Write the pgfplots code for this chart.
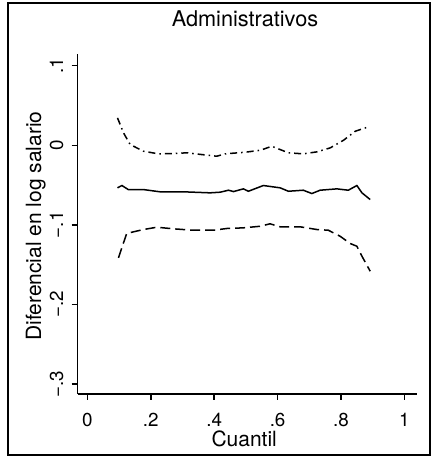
\documentclass[border=0pt]{standalone}
\usepackage{fontspec}
\setmainfont{TeX Gyre Heros}
\usepackage{pgfplots}
\pgfplotsset{compat=1.18}
\begin{document}
\fontsize{21bp}{25bp}\selectfont
\begin{tikzpicture}[x=1bp,y=1bp]
\useasboundingbox (0,0) rectangle (432,462);
\draw[line width=1.6bp] (8,7) rectangle (430,459);
\begin{axis}[
  at={(77.7bp,68bp)}, anchor=south west,
  scale only axis, width=339.3bp, height=340bp,
  xmin=-0.0305, xmax=1.0397, ymin=-0.3126, ymax=0.1147,
  axis x line*=bottom, axis y line*=left,
  axis line style={line width=1.5bp, black},
  xtick={0,0.2,0.4,0.6,0.8,1}, xticklabels={0,.2,.4,.6,.8,1},
  ytick={-0.3,-0.2,-0.1,0,0.1}, yticklabels={−.3,−.2,−.1,0,.1},
  tick align=outside, major tick length=6bp,
  tick style={line width=1.5bp, black},
  every tick label/.append style={font=\fontsize{18.8bp}{22bp}\selectfont},
  xticklabel style={anchor=base, inner sep=0pt, yshift=-26.8bp},
  yticklabel style={xshift=-8.5bp, rotate=90, anchor=base, inner sep=0pt},
  title={Administrativos},
  title style={at={(axis description cs:0.493,1.0638)}, anchor=base, inner sep=0pt, font=\fontsize{21.7bp}{26bp}\selectfont},
  xlabel={Cuantil},
  xlabel style={at={(axis description cs:0.4907,-0.155)}, anchor=base, inner sep=0pt, font=\fontsize{21bp}{25bp}\selectfont},
  ylabel={Diferencial en log salario},
  ylabel style={at={(axis description cs:-0.108,0.494)}, anchor=base, inner sep=0pt, font=\fontsize{21bp}{25bp}\selectfont},
  clip=false,
]
% upper band (dash-dot)
\addplot[black, line width=1.5bp, dash pattern=on 7bp off 4bp on 1.5bp off 4bp] coordinates {
(0.095,0.0344) (0.114,0.0156) (0.135,0.0009) (0.177,-0.0075) (0.224,-0.0108)
(0.271,-0.0104) (0.314,-0.0095) (0.361,-0.0117) (0.408,-0.0138) (0.434,-0.0108)
(0.497,-0.0088) (0.545,-0.0063) (0.582,-0.0013) (0.634,-0.0095) (0.681,-0.0108)
(0.724,-0.0083) (0.766,-0.0033) (0.808,0.0063) (0.845,0.0176) (0.886,0.0231)
};
% estimate (solid)
\addplot[black, line width=1.5bp] coordinates {
(0.095,-0.0535) (0.109,-0.0506) (0.129,-0.0557) (0.177,-0.0557) (0.229,-0.0585)
(0.303,-0.0585) (0.387,-0.0598) (0.419,-0.0590) (0.445,-0.0565) (0.461,-0.0582)
(0.492,-0.0548) (0.508,-0.0578) (0.555,-0.0506) (0.608,-0.0535) (0.634,-0.0578)
(0.681,-0.0565) (0.708,-0.0607) (0.734,-0.0565) (0.787,-0.0548) (0.823,-0.0565)
(0.850,-0.0506) (0.866,-0.0598) (0.892,-0.0682)
};
% lower band (dashed)
\addplot[black, line width=1.5bp, dash pattern=on 10bp off 5bp] coordinates {
(0.098,-0.1415) (0.114,-0.1226) (0.124,-0.1109) (0.140,-0.1093) (0.177,-0.1059)
(0.219,-0.1030) (0.271,-0.1050) (0.334,-0.1068) (0.397,-0.1068) (0.440,-0.1046)
(0.492,-0.1038) (0.545,-0.1018) (0.576,-0.0987) (0.608,-0.1025) (0.671,-0.1025)
(0.724,-0.1059) (0.760,-0.1068) (0.797,-0.1143) (0.829,-0.1235) (0.850,-0.1269)
(0.866,-0.1394) (0.892,-0.1583)
};
\end{axis}
\end{tikzpicture}
\end{document}
